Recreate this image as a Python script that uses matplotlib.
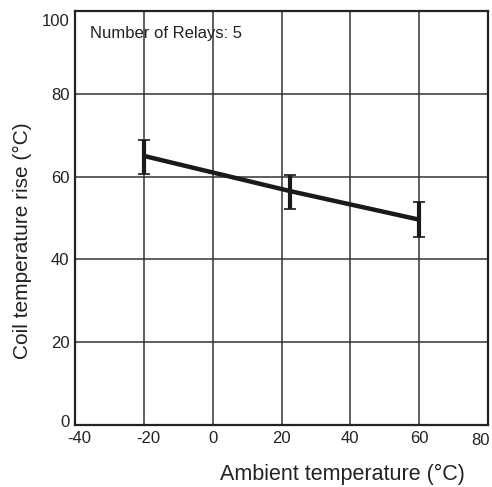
import matplotlib
matplotlib.use("Agg")
import matplotlib.pyplot as plt
import matplotlib.transforms as mtransforms

ambient = [-20, 22.5, 60]
rise = [65.0, 56.5, 49.6]
err_low = [4.4, 4.4, 4.2]
err_high = [3.8, 4.0, 4.2]
xticks = [-40, -20, 0, 20, 40, 60, 80]
yticks = [0, 20, 40, 60, 80, 100]

plt.rcParams['font.family'] = ['Liberation Sans', 'DejaVu Sans']

fig = plt.figure(figsize=(4.92, 4.87), dpi=100)
ax = fig.add_axes([75/492, 1-425/487, 413/492, 414/487])

ax.set_xlim(-40, 80)
ax.set_ylim(0, 100)
ax.set_xticks(xticks)
ax.set_yticks(yticks)
ax.set_xticklabels([str(t) for t in xticks], fontsize=12)
ax.set_yticklabels([str(t) for t in yticks], fontsize=12)
ax.tick_params(length=0, pad=4, colors='#222222')
ax.grid(True, color='#333333', linewidth=1.1)
ax.set_axisbelow(True)
for s in ax.spines.values():
    s.set_linewidth(1.6)
    s.set_color('#222222')

# small label offsets as in the reference
for t, lab in zip(xticks, ax.get_xticklabels()):
    dx, dy = 0, 0
    if t < 0:
        dx = 4
    if t == 80:
        dx, dy = -8, -2
    lab.set_transform(lab.get_transform() + mtransforms.ScaledTranslation(dx/100, dy/100, fig.dpi_scale_trans))
for t, lab in zip(yticks, ax.get_yticklabels()):
    dy = 0
    if t == 0:
        dy = 4
    if t == 100:
        dy = -9
    lab.set_transform(lab.get_transform() + mtransforms.ScaledTranslation(0, dy/100, fig.dpi_scale_trans))

ax.plot(ambient, rise, color='#1a1a1a', linewidth=3.2, solid_capstyle='butt', zorder=3)
ax.errorbar(ambient, rise, yerr=[err_low, err_high], fmt='none', ecolor='#1a1a1a',
            elinewidth=3.0, capsize=4.2, capthick=1.2, zorder=4)

ax.text(-35.5, 94.6, 'Number of Relays: 5', fontsize=12, ha='left', va='center', color='#222222')

fig.text(342/492, 1-474/487, 'Ambient temperature (°C)', fontsize=15.5, ha='center', va='center', color='#222222')
fig.text(22/492, 1-241/487, 'Coil temperature rise (°C)', fontsize=15, ha='center', va='center',
         rotation=90, color='#222222')

fig.savefig('out.png', dpi=100)
